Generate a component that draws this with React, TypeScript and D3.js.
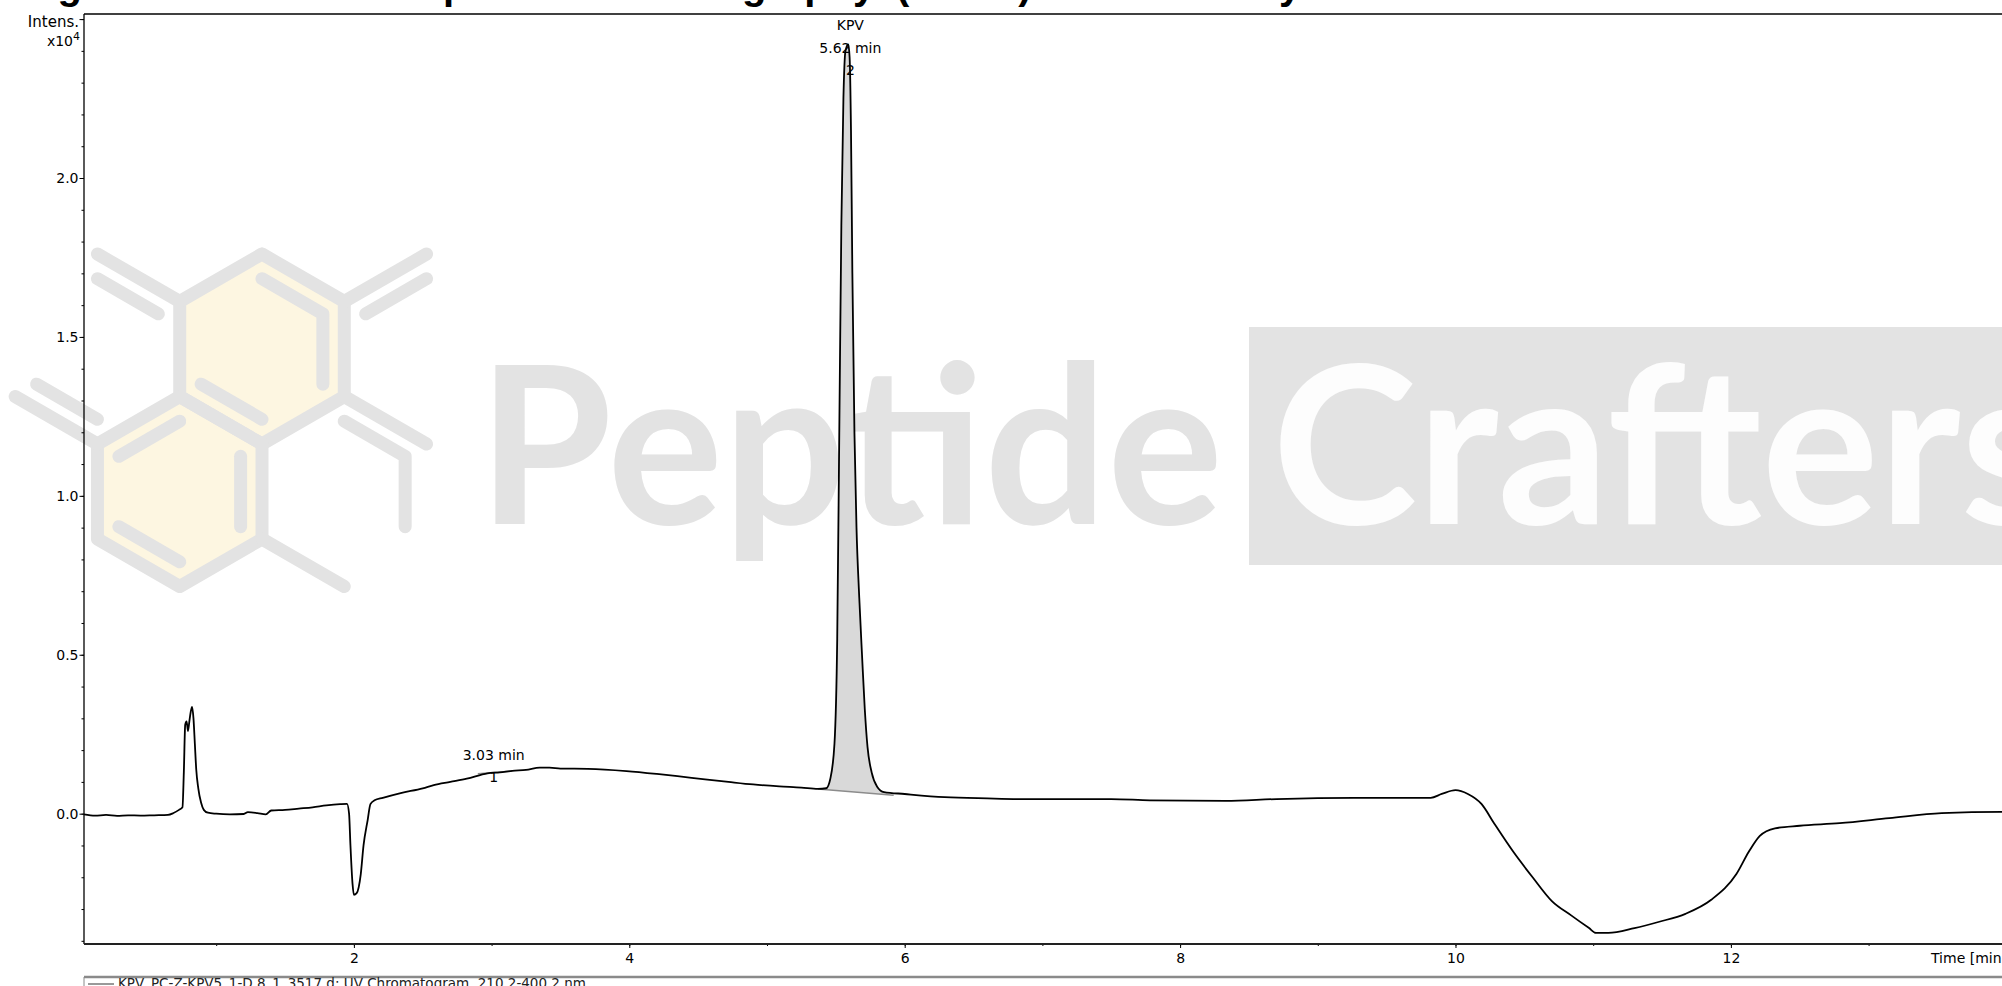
import { useEffect, useRef } from 'react';
import * as d3 from 'd3';

// UV trace, time in min, intensity in x10^4
const times = [
  0.04, 0.12, 0.2, 0.28, 0.36, 0.45, 0.55, 0.65, 0.69, 0.73, 0.755, 0.765, 0.775, 0.785, 0.795, 0.805,
  0.815, 0.825, 0.835, 0.845, 0.855, 0.87, 0.89, 0.91, 0.94, 1.0, 1.1, 1.2, 1.23, 1.3, 1.36, 1.4, 1.5,
  1.6, 1.7, 1.8, 1.9, 1.95, 1.965, 1.975, 1.99, 2.0, 2.02, 2.05, 2.07, 2.1, 2.12, 2.15, 2.21, 2.34, 2.5,
  2.58, 2.7, 2.82, 2.97, 3.06, 3.15, 3.25, 3.35, 3.42, 3.5, 3.7, 3.98, 4.2, 4.35, 4.55, 4.72, 4.9, 5.09,
  5.25, 5.37, 5.43, 5.46, 5.49, 5.51, 5.525, 5.54, 5.555, 5.57, 5.59, 5.6, 5.61, 5.62, 5.635, 5.65, 5.67,
  5.69, 5.71, 5.73, 5.76, 5.8, 5.85, 6.0, 6.29, 6.6, 6.85, 7.5, 7.78, 8.33, 8.7, 9.26, 9.82, 9.9, 10.0,
  10.09, 10.19, 10.28, 10.42, 10.56, 10.7, 10.84, 10.97, 11.02, 11.11, 11.3, 11.48, 11.67, 11.86, 12.04,
  12.13, 12.21, 12.32, 12.5, 12.79, 13.15, 13.53, 13.97, 14.2,
];
const intensities = [
  -0.002, -0.006, -0.004, -0.007, -0.005, -0.006, -0.005, -0.004, 0.002, 0.012, 0.02, 0.13, 0.28, 0.29,
  0.26, 0.29, 0.32, 0.336, 0.3, 0.22, 0.14, 0.08, 0.035, 0.012, 0.003, 0.0, -0.002, -0.001, 0.005, 0.002,
  -0.002, 0.01, 0.012, 0.016, 0.02, 0.026, 0.03, 0.031, 0.0, -0.1, -0.22, -0.255, -0.25, -0.19, -0.1,
  -0.02, 0.03, 0.042, 0.05, 0.065, 0.08, 0.09, 0.1, 0.11, 0.127, 0.13, 0.135, 0.138, 0.145, 0.145, 0.142,
  0.141, 0.134, 0.125, 0.118, 0.108, 0.1, 0.092, 0.086, 0.082, 0.078, 0.08, 0.11, 0.22, 0.55, 1.2, 1.85,
  2.25, 2.4, 2.42, 2.38, 2.15, 1.7, 1.2, 0.9, 0.68, 0.5, 0.33, 0.21, 0.13, 0.085, 0.068, 0.062, 0.052,
  0.048, 0.046, 0.046, 0.042, 0.04, 0.046, 0.05, 0.05, 0.062, 0.074, 0.062, 0.03, -0.03, -0.12, -0.2,
  -0.275, -0.32, -0.36, -0.375, -0.375, -0.36, -0.34, -0.315, -0.27, -0.19, -0.12, -0.07, -0.046, -0.038,
  -0.03, -0.014, 0.002, 0.006, 0.006,
];

// integrated peaks
const peakNumbers = [1, 2];
const peakCompounds = ['', 'KPV'];
const peakRetention = [3.03, 5.62];
const peakStarts = [2.9, 5.37];
const peakEnds = [3.15, 5.92];
const peakBaseStart = [0.126, 0.078];
const peakBaseEnd = [0.134, 0.058];

const yTickValues = [0, 0.5, 1.0, 1.5, 2.0, 2.5];
const xTickValues = [2, 4, 6, 8, 10, 12];
const yLabel = 'Intens.';
const yUnit = 'x10';
const yUnitExp = '4';
const xLabel = 'Time [min]';
const legendLabel = 'KPV_PC-Z-KPV5_1-D.8_1_3517.d: UV Chromatogram, 210.2-400.2 nm';
const titleWords = ['Figure 1:', 'Reverse-phase', 'Chromatography', '(HPLC) of KPV Assay'];
const brandWords = ['Peptide', 'Crafters'];

const W = 2002;
const H = 986;
const FONT = '"DejaVu Sans", Verdana, sans-serif';

export default function App() {
  const ref = useRef<SVGSVGElement>(null);

  useEffect(() => {
    if (!ref.current) return;
    const svg = d3.select(ref.current);
    svg.selectAll('*').remove();

    const left = 84;
    const top = 14;
    const bottom = 944;
    const x = d3.scaleLinear().domain([0.04, 14.2]).range([left, left + 137.7 * 14.16]);
    const y = d3.scaleLinear().domain([-0.41, 2.516]).range([bottom, top]);

    svg.append('rect').attr('width', W).attr('height', H).attr('fill', '#fff');

    // ---- watermark ----
    const wm = svg.append('g');
    const gray = '#e3e3e3';
    const hs = 95;
    const origin = [262, 349];
    const center = (q: number, r: number) => [
      origin[0] + Math.sqrt(3) * hs * (q + r / 2),
      origin[1] + 1.5 * hs * r,
    ];
    const vert = (q: number, r: number, k: number, s = 1) => {
      const c = center(q, r);
      const a = ((-90 + 60 * k) * Math.PI) / 180;
      return [c[0] + s * hs * Math.cos(a), c[1] + s * hs * Math.sin(a)] as [number, number];
    };
    const line = d3.line();
    [[0, 0], [-1, 1]].forEach(([q, r]) => {
      const pts = d3.range(6).map((k) => vert(q, r, k, 0.95));
      wm.append('path').attr('d', line(pts) + 'Z').attr('fill', '#fdf6e1');
    });
    const strokes: { q: number; r: number; v: number[]; s: number }[] = [
      { q: 0, r: 0, v: [0, 1, 2, 3, 4, 5, 0], s: 1 },
      { q: -1, r: 1, v: [0, 1, 2, 3, 4, 5, 0], s: 1 },
      { q: 0, r: -1, v: [4, 3], s: 1 },
      { q: 1, r: 0, v: [5, 0], s: 1 },
      { q: 0, r: 1, v: [0, 1], s: 1 },
      { q: 0, r: 1, v: [4, 3], s: 1 },
      { q: -2, r: 1, v: [1, 0], s: 1 },
      { q: 0, r: 0, v: [0, 1, 2], s: 0.74 },
      { q: 0, r: 0, v: [4, 3], s: 0.74 },
      { q: -1, r: 1, v: [5, 0], s: 0.74 },
      { q: -1, r: 1, v: [1, 2], s: 0.74 },
      { q: -1, r: 1, v: [4, 3], s: 0.74 },
      { q: -1, r: 0, v: [0, 1], s: 0.74 },
      { q: -1, r: 0, v: [4, 3], s: 0.74 },
      { q: 1, r: 0, v: [5, 0], s: 0.74 },
      { q: 0, r: 1, v: [0, 1, 2], s: 0.74 },
    ];
    strokes.forEach((st) => {
      wm.append('path')
        .attr('d', line(st.v.map((k) => vert(st.q, st.r, k, st.s))))
        .attr('fill', 'none')
        .attr('stroke', gray)
        .attr('stroke-width', 13)
        .attr('stroke-linecap', 'round')
        .attr('stroke-linejoin', 'round');
    });
    wm.append('text')
      .attr('x', 478)
      .attr('y', 524)
      .attr('font-family', 'Lato, "Open Sans", sans-serif')
      .attr('font-weight', 700)
      .attr('font-size', 220)
      .attr('textLength', 745)
      .attr('lengthAdjust', 'spacingAndGlyphs')
      .attr('fill', gray)
      .text(brandWords[0]);
    wm.append('rect').attr('x', 1249).attr('y', 327).attr('width', 900).attr('height', 238).attr('fill', gray);
    wm.append('text')
      .attr('x', 1272)
      .attr('y', 524)
      .attr('font-family', 'Lato, "Open Sans", sans-serif')
      .attr('font-weight', 700)
      .attr('font-size', 220)
      .attr('textLength', 785)
      .attr('lengthAdjust', 'spacingAndGlyphs')
      .attr('fill', '#fdfdfd')
      .text(brandWords[1]);

    // ---- chromatogram ----
    const g = svg.append('g');
    const data = times.map((t, i) => ({ t, v: intensities[i] }));
    const curve = d3.curveMonotoneX;

    peakNumbers.forEach((n, i) => {
      const s = peakStarts[i];
      const e = peakEnds[i];
      const base = (t: number) => peakBaseStart[i] + ((peakBaseEnd[i] - peakBaseStart[i]) * (t - s)) / (e - s);
      const pts = data.filter((p) => p.t >= s && p.t <= e);
      const area = d3
        .area<{ t: number; v: number }>()
        .x((p) => x(p.t))
        .y0((p) => y(base(p.t)))
        .y1((p) => y(p.v))
        .curve(curve);
      g.append('path')
        .datum([{ t: s, v: peakBaseStart[i] }, ...pts, { t: e, v: peakBaseEnd[i] }])
        .attr('d', area)
        .attr('fill', '#d9d9d9');
      g.append('line')
        .attr('x1', x(s))
        .attr('y1', y(peakBaseStart[i]))
        .attr('x2', x(e))
        .attr('y2', y(peakBaseEnd[i]))
        .attr('stroke', '#8c8c8c')
        .attr('stroke-width', 1.5);
    });

    g.append('path')
      .datum(data)
      .attr(
        'd',
        d3
          .line<{ t: number; v: number }>()
          .x((p) => x(p.t))
          .y((p) => y(p.v))
          .curve(curve),
      )
      .attr('fill', 'none')
      .attr('stroke', '#000')
      .attr('stroke-width', 1.8)
      .attr('stroke-linejoin', 'round');

    peakNumbers.forEach((n, i) => {
      const apex = d3.max(data.filter((p) => p.t >= peakStarts[i] && p.t <= peakEnds[i]), (p) => p.v) ?? 0;
      const px = x(peakRetention[i]) - 2;
      const rtY = Math.max(y(apex) - 11, 53);
      const lab = g.append('g').attr('font-family', FONT).attr('font-size', 14).attr('text-anchor', 'middle');
      lab.append('text').attr('x', px).attr('y', rtY).text(`${peakRetention[i].toFixed(2)} min`);
      lab.append('text').attr('x', px).attr('y', rtY + 22).text(String(n));
      if (peakCompounds[i]) lab.append('text').attr('x', px).attr('y', rtY - 23).text(peakCompounds[i]);
    });

    // ---- axes ----
    const styleAxis = (a: d3.Selection<SVGGElement, unknown, null, undefined>) => {
      a.select('.domain').remove();
      a.attr('font-family', FONT).attr('font-size', 14);
      a.selectAll('line').attr('stroke', '#000');
      a.selectAll('text').attr('fill', '#000');
    };
    g.append('g')
      .attr('transform', `translate(${left},0)`)
      .call(d3.axisLeft(y).ticks(30).tickSize(2.5).tickFormat(() => ''))
      .call(styleAxis);
    g.append('g')
      .attr('transform', `translate(${left},0)`)
      .call(
        d3
          .axisLeft(y)
          .tickValues(yTickValues)
          .tickSize(4.5)
          .tickPadding(1)
          .tickFormat((d) => (+d >= 2.5 ? '' : d3.format('.1f')(+d))),
      )
      .call(styleAxis);
    g.append('g')
      .attr('transform', `translate(0,${bottom})`)
      .call(d3.axisBottom(x).ticks(15).tickSize(2).tickFormat(() => ''))
      .call(styleAxis);
    g.append('g')
      .attr('transform', `translate(0,${bottom})`)
      .call(d3.axisBottom(x).tickValues(xTickValues).tickSize(4).tickPadding(5).tickFormat(d3.format('d')))
      .call(styleAxis);

    g.append('line').attr('x1', left).attr('x2', left).attr('y1', top).attr('y2', bottom).attr('stroke', '#000').attr('stroke-width', 1.3);
    g.append('line').attr('x1', left).attr('x2', W).attr('y1', top).attr('y2', top).attr('stroke', '#000').attr('stroke-width', 1.3);
    g.append('line').attr('x1', left).attr('x2', W).attr('y1', bottom).attr('y2', bottom).attr('stroke', '#222').attr('stroke-width', 2);

    const lbl = g.append('g').attr('font-family', FONT).attr('font-size', 14).attr('fill', '#000');
    lbl.append('text').attr('x', 79).attr('y', 27).attr('font-size', 15).attr('text-anchor', 'end').text(yLabel);
    const unit = lbl.append('text').attr('x', 80).attr('y', 46).attr('text-anchor', 'end');
    unit.append('tspan').text(yUnit);
    unit.append('tspan').attr('dy', -6).attr('font-size', 11).text(yUnitExp);
    lbl.append('text').attr('x', 1931).attr('y', 963).text(xLabel);

    // ---- legend ----
    g.append('line').attr('x1', left).attr('x2', W).attr('y1', 977).attr('y2', 977).attr('stroke', '#8a8a8a').attr('stroke-width', 2.5);
    g.append('line').attr('x1', left).attr('x2', left).attr('y1', 977).attr('y2', H).attr('stroke', '#8a8a8a').attr('stroke-width', 1);
    g.append('line').attr('x1', 88).attr('x2', 114).attr('y1', 984).attr('y2', 984).attr('stroke', '#555').attr('stroke-width', 1.2);
    g.append('text')
      .attr('x', 118)
      .attr('y', 988)
      .attr('font-family', FONT)
      .attr('font-size', 13.5)
      .attr('fill', '#222')
      .text(legendLabel);

    // ---- title (cut off by the top edge) ----
    const titleX = [22, 274, 553, 896];
    const title = svg
      .append('text')
      .attr('font-family', '"Liberation Sans", Arial, sans-serif')
      .attr('font-weight', 700)
      .attr('font-size', 40)
      .attr('fill', '#000');
    titleWords.forEach((w, i) => title.append('tspan').attr('x', titleX[i]).attr('y', -1).text(w));
  }, []);

  return (
    <svg
      ref={ref}
      width={W}
      height={H}
      viewBox={`0 0 ${W} ${H}`}
      style={{ position: 'absolute', left: 0, top: 0, display: 'block' }}
    />
  );
}
